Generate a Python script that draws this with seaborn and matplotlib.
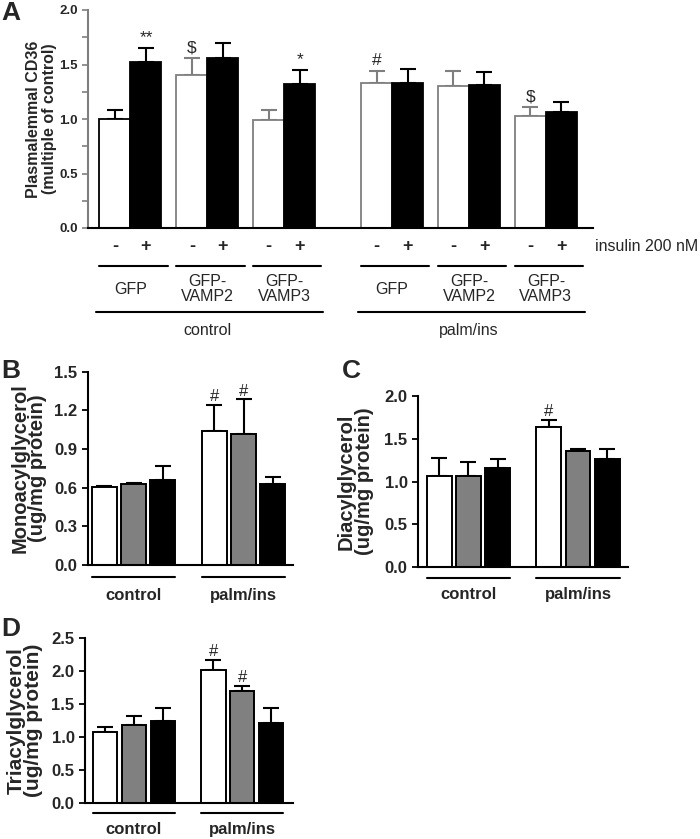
import numpy as np
import pandas as pd
import matplotlib
matplotlib.use("Agg")
import matplotlib.pyplot as plt
import seaborn as sns
from matplotlib import transforms
from matplotlib.ticker import MultipleLocator, FormatStrFormatter

# ---- data ----
# Panel A: plasmalemmal CD36
a_condition = ["control"] * 6 + ["palm/ins"] * 6
a_construct = ["GFP", "GFP", "GFP-\nVAMP2", "GFP-\nVAMP2", "GFP-\nVAMP3", "GFP-\nVAMP3"] * 2
a_insulin = ["-", "+"] * 6
a_mean = [1.00, 1.52, 1.40, 1.56, 0.99, 1.32, 1.33, 1.33, 1.30, 1.31, 1.03, 1.06]
a_sem = [0.08, 0.13, 0.16, 0.14, 0.09, 0.13, 0.11, 0.13, 0.14, 0.12, 0.08, 0.10]
a_marks = ["", "**", "$", "", "", "*", "#", "", "", "", "$", ""]

# Panels B-D: lipid content
lipid_groups = ["control", "palm/ins"]
lipid_constructs = ["GFP", "GFP-VAMP2", "GFP-VAMP3"]

mag_mean = [0.605, 0.63, 0.66, 1.04, 1.02, 0.632]
mag_sem = [0.01, 0.01, 0.105, 0.205, 0.265, 0.052]
mag_marks = ["", "", "", "#", "#", ""]

dag_mean = [1.066, 1.066, 1.163, 1.634, 1.358, 1.265]
dag_sem = [0.214, 0.16, 0.10, 0.086, 0.027, 0.12]
dag_marks = ["", "", "", "#", "", ""]

tag_mean = [1.076, 1.187, 1.253, 2.02, 1.70, 1.222]
tag_sem = [0.081, 0.136, 0.187, 0.157, 0.078, 0.228]
tag_marks = ["", "", "", "#", "#", ""]

# ---- style ----
sns.set_theme(style="ticks")
plt.rcParams["font.family"] = ["Liberation Sans", "DejaVu Sans"]
plt.rcParams["axes.linewidth"] = 1.5
GREY = "#7f7f7f"

fig = plt.figure(figsize=(7, 8.39), dpi=100)
W, H = 700, 839


def px_axes(x0, y0, x1, y1):
    return fig.add_axes([x0 / W, 1 - y1 / H, (x1 - x0) / W, (y1 - y0) / H])


def mark_text(s):
    return s.replace("$", r"\$")


# ---------------- Panel A ----------------
ax = px_axes(88, 10, 593, 228)
a_pos = [i + 0.48 * (i // 2) + 1.0 * (i // 6) for i in range(12)]
df_a = pd.DataFrame({"pos": a_pos, "value": a_mean, "insulin": a_insulin})
sns.barplot(data=df_a, x="pos", y="value", hue="insulin",
            palette={"-": "white", "+": "black"}, native_scale=True,
            width=1.0, errorbar=None, legend=False, ax=ax,
            edgecolor="black", linewidth=1.3)

bars = sorted(ax.patches, key=lambda p: p.get_x())
for i, (bar, ins) in enumerate(zip(bars, a_insulin)):
    col = "black" if (ins == "+" or i == 0) else GREY
    bar.set_edgecolor(col)
    ax.errorbar(a_pos[i], a_mean[i], yerr=[[0], [a_sem[i]]], fmt="none",
                ecolor=col, elinewidth=1.5, capsize=5.5, capthick=1.5, zorder=0.9)
    if a_marks[i]:
        ax.annotate(mark_text(a_marks[i]), (a_pos[i], a_mean[i] + a_sem[i]),
                    xytext=(0, 2), textcoords="offset points",
                    ha="center", va="bottom", fontsize=12.5)

ax.set_xlim(-0.87, 15.42)
ax.set_ylim(0, 2.0)
ax.yaxis.set_major_locator(MultipleLocator(0.5))
ax.yaxis.set_minor_locator(MultipleLocator(0.25))
ax.yaxis.set_major_formatter(FormatStrFormatter("%.1f"))
ax.tick_params(axis="y", which="both", length=4, width=1.2, color=GREY,
               labelsize=9.5)
plt.setp(ax.get_yticklabels(), fontweight="bold")
ax.set_xticks([])
ax.set_xlabel("")
ax.spines["left"].set_color(GREY)
ax.spines["bottom"].set_color("black")
sns.despine(ax=ax)
ax.set_ylabel("Plasmalemmal CD36\n(multiple of control)", fontsize=11.5,
              fontweight="bold", linespacing=1.05)
ax.yaxis.set_label_coords(-0.062, 0.5)

trans = transforms.blended_transform_factory(ax.transData, ax.transAxes)
for i in range(12):
    ax.text(a_pos[i], -0.087, a_insulin[i], transform=trans, ha="center",
            va="center", fontsize=13, fontweight="bold")
for i in range(0, 12, 2):
    ax.plot([a_pos[i] - 0.5, a_pos[i + 1] + 0.7], [-0.174, -0.174], transform=trans,
            color="black", lw=1.5, clip_on=False)
    ax.text((a_pos[i] + a_pos[i + 1]) / 2, -0.28, a_construct[i], transform=trans,
            ha="center", va="center", fontsize=11.5, linespacing=1.05)
for first, last in [(0, 5), (6, 11)]:
    ax.plot([a_pos[first] - 0.6, a_pos[last] + 0.75], [-0.385, -0.385],
            transform=trans, color="black", lw=1.5, clip_on=False)
    ax.text((a_pos[first] + a_pos[last]) / 2, -0.47, a_condition[first],
            transform=trans, ha="center", va="center", fontsize=11.5)
ax.text(1.004, -0.087, "insulin 200 nM", transform=ax.transAxes, ha="left",
        va="center", fontsize=11.5)


# ---------------- Panels B-D ----------------
def lipid_panel(ax, means, sems, marks, ylabel, ymax, step, xlim, label_x, label_fs):
    df = pd.DataFrame({"group": np.repeat(lipid_groups, 3),
                       "construct": lipid_constructs * 2,
                       "value": means})
    sns.barplot(data=df, x="group", y="value", hue="construct",
                palette=["white", "#808080", "black"], width=0.8, gap=0.15,
                errorbar=None, legend=False, ax=ax,
                edgecolor="black", linewidth=1.4)
    bars = sorted(ax.patches, key=lambda p: p.get_x())
    for bar, m, e, mk in zip(bars, means, sems, marks):
        xc = bar.get_x() + bar.get_width() / 2
        ax.errorbar(xc, m, yerr=[[0], [e]], fmt="none", ecolor="black",
                    elinewidth=1.5, capsize=5.5, capthick=1.5, zorder=0.9)
        if mk:
            ax.annotate(mk, (xc, m + e), xytext=(0, 0.5), textcoords="offset points",
                        ha="center", va="bottom", fontsize=12)
    ax.set_xlim(*xlim)
    ax.set_ylim(0, ymax)
    ax.yaxis.set_major_locator(MultipleLocator(step))
    ax.yaxis.set_major_formatter(FormatStrFormatter("%.1f"))
    ax.tick_params(axis="y", length=4, width=1.3, color="black", labelsize=12)
    plt.setp(ax.get_yticklabels(), fontweight="bold")
    ax.set_xticks([])
    ax.set_xlabel("")
    for s in ("left", "bottom"):
        ax.spines[s].set_color("black")
    sns.despine(ax=ax)
    ax.set_ylabel(ylabel, fontsize=label_fs, fontweight="bold", linespacing=0.92)
    ax.yaxis.set_label_coords(label_x, 0.5)

    trans = transforms.blended_transform_factory(ax.transData, ax.transAxes)
    for g, grp in enumerate(lipid_groups):
        gb = bars[3 * g:3 * g + 3]
        x0 = gb[0].get_x()
        x1 = gb[-1].get_x() + gb[-1].get_width()
        ax.plot([x0, x1], [-0.06, -0.06], transform=trans, color="black",
                lw=1.5, clip_on=False)
        ax.text((x0 + x1) / 2, -0.16, grp, transform=trans, ha="center",
                va="center", fontsize=12, fontweight="bold")


ax_b = px_axes(88, 371.7, 293, 565)
lipid_panel(ax_b, mag_mean, mag_sem, mag_marks, "Monoacylglycerol\n(ug/mg protein)",
            1.5, 0.3, (-0.414, 1.45), -0.2, 14.5)

ax_c = px_axes(418, 396, 628, 567.3)
lipid_panel(ax_c, dag_mean, dag_sem, dag_marks, "Diacylglycerol\n(ug/mg protein)",
            2.0, 0.5, (-0.461, 1.457), -0.21, 14.5)

ax_d = px_axes(85, 638.3, 293, 803.3)
lipid_panel(ax_d, tag_mean, tag_sem, tag_marks, "Triacylglycerol\n(ug/mg protein)",
            2.5, 0.5, (-0.452, 1.47), -0.2, 15)

# panel letters
for letter, x, y in [("A", 1, 1), ("B", 1, 359), ("C", 342, 359), ("D", 1, 617)]:
    fig.text(x / W, 1 - y / H, letter, ha="left", va="top", fontsize=19,
             fontweight="bold")

fig.savefig("out.png", dpi=100, facecolor="white")
